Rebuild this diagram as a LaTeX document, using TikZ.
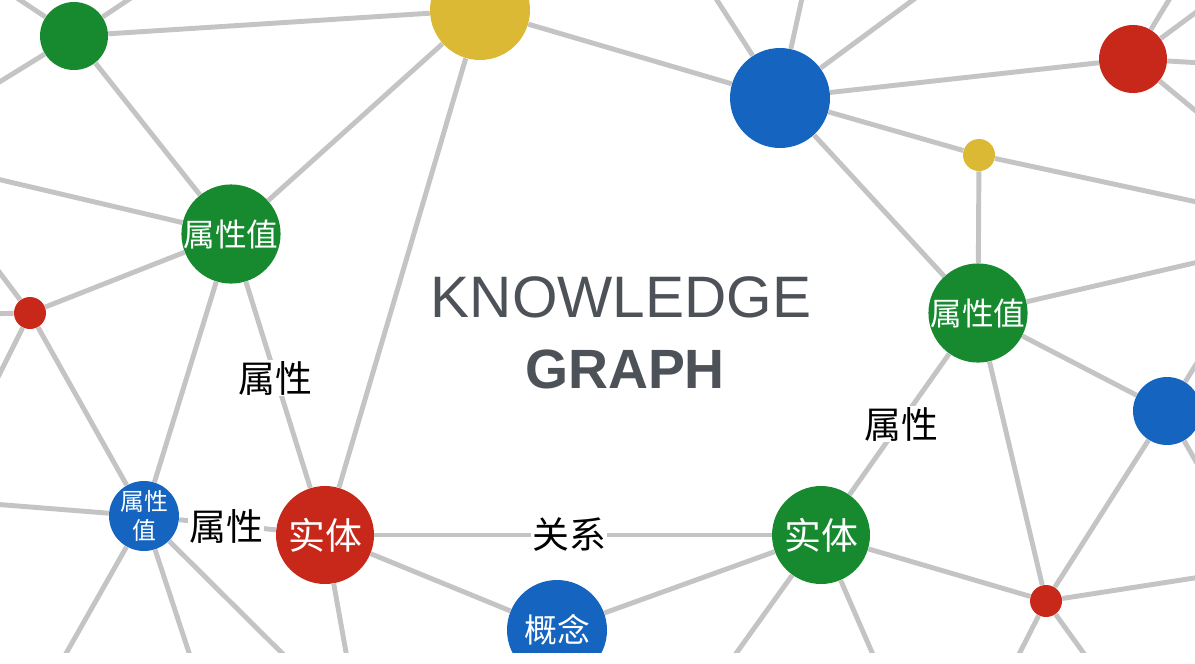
\documentclass[tikz,border=0pt]{standalone}
\usepackage{fontspec}
\setmainfont{Liberation Sans}
\newfontfamily\cjk{Noto Sans CJK SC}
\definecolor{kgreen}{HTML}{178A30}
\definecolor{kred}{HTML}{C8281A}
\definecolor{kblue}{HTML}{1565C0}
\definecolor{kyellow}{HTML}{DCB935}
\definecolor{kline}{HTML}{C4C4C4}
\definecolor{ktitle}{HTML}{4D5259}

\begin{document}
\begin{tikzpicture}[x=0.02cm, y=-0.02cm,
    link/.style={draw=kline, line width=2.8pt},
    ball/.style={circle, fill=#1, inner sep=0pt, text=white},
    rel/.style={fill=white, inner sep=0.5pt, font=\cjk\fontsize{21}{21}\selectfont}]
            \useasboundingbox [fill=white] (0,0) rectangle (1195,663);
            \clip (0,0) rectangle (1195,652);
            \node [ball=kgreen, minimum size=1.36cm] (gTop) at (74,36) {};
            \node [ball=kyellow, minimum size=2cm] (yTop) at (480,10) {};
            \node [ball=kgreen, minimum size=1.96cm, font=\cjk\fontsize{18}{18}\selectfont] (valA) at (231,234) {属性值};
            \node [ball=kred, minimum size=0.64cm] (rLeft) at (30,313) {};
            \node [ball=kblue, minimum size=2cm] (bTop) at (780,98) {};
            \node [ball=kred, minimum size=1.36cm] (rTop) at (1133,59) {};
            \node [ball=kyellow, minimum size=0.64cm] (ySmall) at (979,155) {};
            \node [ball=kgreen, minimum size=1.96cm, font=\cjk\fontsize{18}{18}\selectfont] (valB) at (978,313) {属性值};
            \node [ball=kblue, minimum size=1.36cm] (bRight) at (1167,411) {};
            \node [ball=kblue, minimum size=1.4cm, align=center, font=\cjk\fontsize{13.6}{16.4}\selectfont] (valC) at (144,516) {属性\\值};
            \node [ball=kred, minimum size=1.96cm, font=\cjk\fontsize{21}{21}\selectfont] (entA) at (325,535) {实体};
            \node [ball=kblue, minimum size=2cm, font=\cjk\fontsize{18.7}{18.7}\selectfont] (concept) at (557,630) {概念};
            \node [ball=kgreen, minimum size=1.96cm, font=\cjk\fontsize{21}{21}\selectfont] (entB) at (821,535) {实体};
            \node [ball=kred, minimum size=0.64cm] (rBottom) at (1046,601) {};
            \coordinate (o1) at (-16,-24);
            \coordinate (o2) at (146,-12);
            \coordinate (o3) at (-20,94);
            \coordinate (o4) at (-20,175);
            \coordinate (o5) at (-20,314);
            \coordinate (o6) at (-15,253);
            \coordinate (o7) at (-15,403);
            \coordinate (o8) at (-20,503);
            \coordinate (o9) at (51,680);
            \coordinate (o10) at (198,680);
            \coordinate (o11) at (309,680);
            \coordinate (o12) at (351,680);
            \coordinate (o13) at (717,680);
            \coordinate (o14) at (884,680);
            \coordinate (o15) at (1006,680);
            \coordinate (o16) at (1103,680);
            \coordinate (o17) at (1220,574);
            \coordinate (o18) at (1210,342);
            \coordinate (o19) at (1210,486);
            \coordinate (o20) at (1220,207);
            \coordinate (o21) at (1220,257);
            \coordinate (o22) at (1181,-20);
            \coordinate (o23) at (1222,-7);
            \coordinate (o24) at (1220,64);
            \coordinate (o25) at (1220,131);
            \coordinate (o26) at (704,-20);
            \coordinate (o27) at (806,-20);
            \coordinate (o28) at (940,-20);
            \draw [link] (gTop) -- (o1);
            \draw [link] (gTop) -- (o2);
            \draw [link] (gTop) -- (o3);
            \draw [link] (gTop) -- (yTop);
            \draw [link] (gTop) -- (valA);
            \draw [link] (valA) -- (yTop);
            \draw [link] (valA) -- (o4);
            \draw [link] (valA) -- (rLeft);
            \draw [link] (valA) -- (valC);
            \draw [link] (valA) -- (entA);
            \draw [link] (yTop) -- (entA);
            \draw [link] (yTop) -- (bTop);
            \draw [link] (rLeft) -- (o5);
            \draw [link] (rLeft) -- (o6);
            \draw [link] (rLeft) -- (o7);
            \draw [link] (rLeft) -- (valC);
            \draw [link] (valC) -- (o8);
            \draw [link] (valC) -- (o9);
            \draw [link] (valC) -- (o10);
            \draw [link] (valC) -- (o11);
            \draw [link] (valC) -- (entA);
            \draw [link] (entA) -- (o12);
            \draw [link] (entA) -- (concept);
            \draw [link] (entA) -- (entB);
            \draw [link] (concept) -- (entB);
            \draw [link] (entB) -- (o13);
            \draw [link] (entB) -- (o14);
            \draw [link] (entB) -- (rBottom);
            \draw [link] (entB) -- (valB);
            \draw [link] (valB) -- (rBottom);
            \draw [link] (valB) -- (bRight);
            \draw [link] (valB) -- (ySmall);
            \draw [link] (valB) -- (bTop);
            \draw [link] (valB) -- (o21);
            \draw [link] (rBottom) -- (bRight);
            \draw [link] (rBottom) -- (o15);
            \draw [link] (rBottom) -- (o16);
            \draw [link] (rBottom) -- (o17);
            \draw [link] (bRight) -- (o18);
            \draw [link] (bRight) -- (o19);
            \draw [link] (ySmall) -- (bTop);
            \draw [link] (ySmall) -- (o20);
            \draw [link] (bTop) -- (rTop);
            \draw [link] (bTop) -- (o26);
            \draw [link] (bTop) -- (o27);
            \draw [link] (bTop) -- (o28);
            \draw [link] (rTop) -- (o22);
            \draw [link] (rTop) -- (o23);
            \draw [link] (rTop) -- (o24);
            \draw [link] (rTop) -- (o25);
            \node [rel] (attrUp) at (275,378) {属性};
            \node [rel] (attrLeft) at (226,526) {属性};
            \node [rel] (relMid) at (569,535) {关系};
            \node [rel] (attrRight) at (901,424) {属性};
            \node [anchor=base, text=ktitle, font=\fontsize{33.3}{33.3}\selectfont] (know) at (621,317) {KNOWLEDGE};
            \node [anchor=base, text=ktitle, font=\bfseries\fontsize{31.5}{31.5}\selectfont] (graph) at (625,388) {GRAPH};
        \end{tikzpicture}
\end{document}
